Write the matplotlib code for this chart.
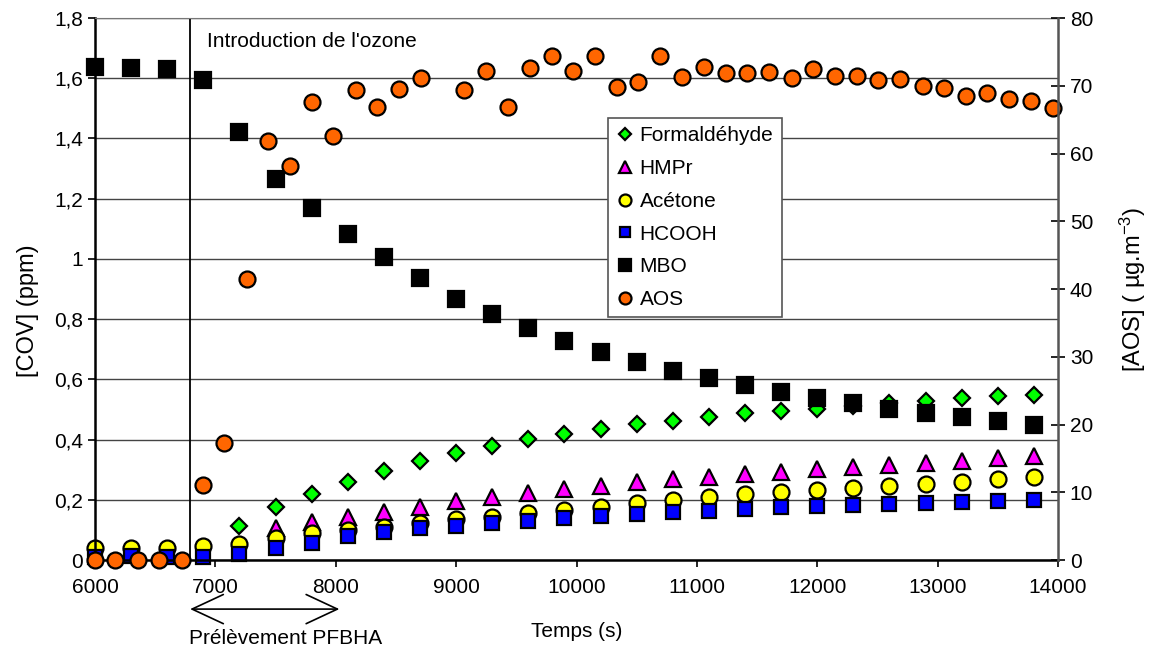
import matplotlib
matplotlib.use('Agg')
import matplotlib.pyplot as plt
from matplotlib.ticker import FuncFormatter, MultipleLocator

plt.rcParams['font.family'] = ['Liberation Sans', 'DejaVu Sans']
plt.rcParams['mathtext.default'] = 'regular'
plt.rcParams['font.size'] = 15

# temps des prélèvements COV (s)
t_cov = [6000, 6300, 6600, 6900, 7200, 7500, 7800, 8100, 8400, 8700, 9000, 9300, 9600, 9900,
         10200, 10500, 10800, 11100, 11400, 11700, 12000, 12300, 12600, 12900, 13200, 13500, 13800]
t_form = t_cov[4:]
t_hmpr = t_cov[5:]

formaldehyde = [0.113, 0.176, 0.219, 0.26, 0.296, 0.328, 0.356, 0.379, 0.401, 0.418, 0.435, 0.452,
                0.462, 0.475, 0.488, 0.495, 0.502, 0.51, 0.52, 0.528, 0.538, 0.545, 0.548]
hmpr = [0.107, 0.125, 0.143, 0.16, 0.177, 0.195, 0.208, 0.222, 0.235, 0.246, 0.26, 0.268, 0.277,
        0.285, 0.293, 0.301, 0.309, 0.316, 0.323, 0.33, 0.338, 0.345]
acetone = [0.04, 0.04, 0.04, 0.045, 0.053, 0.072, 0.089, 0.1, 0.11, 0.122, 0.135, 0.143, 0.155,
           0.167, 0.177, 0.19, 0.2, 0.21, 0.218, 0.226, 0.233, 0.24, 0.246, 0.253, 0.26, 0.268, 0.275]
hcooh = [0.01, 0.012, 0.01, 0.01, 0.02, 0.04, 0.055, 0.08, 0.093, 0.105, 0.113, 0.122, 0.13,
         0.139, 0.146, 0.153, 0.158, 0.163, 0.168, 0.175, 0.18, 0.183, 0.186, 0.19, 0.193, 0.196, 0.2]
mbo = [1.638, 1.635, 1.631, 1.595, 1.422, 1.266, 1.169, 1.083, 1.007, 0.935, 0.867, 0.817, 0.769,
       0.728, 0.691, 0.658, 0.628, 0.605, 0.581, 0.558, 0.538, 0.522, 0.502, 0.488, 0.475, 0.462, 0.449]

# AOS (axe de droite, µg/m3)
t_aos = [6000, 6170, 6360, 6530, 6720, 6900, 7070, 7260, 7440, 7620, 7800, 7980, 8165, 8345, 8525,
         8710, 9065, 9250, 9430, 9615, 9795, 9970, 10155, 10340, 10515, 10695, 10880, 11060, 11245,
         11420, 11600, 11790, 11965, 12150, 12330, 12505, 12690, 12875, 13050, 13235, 13410, 13595,
         13775, 13955]
aos = [0, 0, 0, 0, 0, 11.1, 17.3, 41.5, 61.8, 58.2, 67.6, 62.6, 69.4, 66.9, 69.5, 71.1, 69.4, 72.2,
       66.9, 72.6, 74.4, 72.2, 74.4, 69.8, 70.6, 74.4, 71.3, 72.8, 71.9, 71.9, 72.0, 71.1, 72.5, 71.4,
       71.4, 70.8, 71.0, 70.0, 69.7, 68.5, 68.9, 68.0, 67.7, 66.7]

t_ozone = 6790
prelevement = (6790, 8030)

fig = plt.figure(figsize=(11.53, 6.53), dpi=100)
ax1 = fig.add_axes([0.0824, 0.1424, 0.8352, 0.830])

kw = dict(linestyle='none', markeredgecolor='black', markeredgewidth=1.6, clip_on=False)
h1, = ax1.plot(t_form, formaldehyde, marker='D', ms=8.5, color='#00ff00', label='Formaldéhyde', **kw)
h2, = ax1.plot(t_hmpr, hmpr, marker='^', ms=11.5, color='#ff00ff', label='HMPr', **kw)
h3, = ax1.plot(t_cov, acetone, marker='o', ms=11.5, color='#ffff00', label='Acétone', **kw)
h4, = ax1.plot(t_cov, hcooh, marker='s', ms=10.5, color='#0000ff', label='HCOOH', **kw)
h5, = ax1.plot(t_cov, mbo, marker='s', ms=12, color='black', label='MBO', **kw)

ax1.set_xlim(6000, 14000)
ax1.set_ylim(0, 1.8)
ax1.xaxis.set_major_locator(MultipleLocator(1000))
ax1.yaxis.set_major_locator(MultipleLocator(0.2))
ax1.yaxis.set_major_formatter(FuncFormatter(lambda v, p: ('%g' % round(v, 1)).replace('.', ',')))
ax1.grid(axis='y', color='#444444', linewidth=1)
ax1.set_axisbelow(True)
ax1.set_xlabel('Temps (s)', labelpad=18)
ax1.set_ylabel('[COV] (ppm)', labelpad=8, fontsize=17)
ax1.yaxis.set_label_coords(-0.058, 0.46)
ax1.tick_params(axis='both', direction='out', length=5, width=1.2)
ax1.tick_params(axis='x', pad=8)
ax1.spines['left'].set_linewidth(1.8)
ax1.spines['bottom'].set_linewidth(1.8)
ax1.spines['top'].set_color('#777777')
ax1.spines['right'].set_visible(False)

ax1.axvline(t_ozone, color='black', linewidth=1.3, zorder=1)
ax1.text(6930, 1.722, "Introduction de l'ozone", ha='left', va='center')

ax1.annotate('', xy=(prelevement[0], -0.163), xytext=(prelevement[1], -0.163),
             xycoords='data', annotation_clip=False,
             arrowprops=dict(arrowstyle='<->,head_length=1.5,head_width=0.7', color='black',
                             linewidth=1.2, shrinkA=0, shrinkB=0))
ax1.text(7580, -0.262, 'Prélèvement PFBHA', ha='center', va='center', clip_on=False)

ax2 = ax1.twinx()
h6, = ax2.plot(t_aos, aos, marker='o', ms=11.5, color='#ff6600', label='AOS', **kw)
ax2.set_ylim(0, 80)
ax2.yaxis.set_major_locator(MultipleLocator(10))
ax2.set_ylabel('[AOS] ( µg.m$^{-3}$)', labelpad=18, fontsize=17)
ax2.tick_params(axis='y', direction='inout', length=10, width=1.2)
ax2.spines['right'].set_color('#555555')
ax2.spines['right'].set_linewidth(1.8)
for s in ['left', 'bottom', 'top']:
    ax2.spines[s].set_visible(False)

leg = ax2.legend([h1, h2, h3, h4, h5, h6],
                 ['Formaldéhyde', 'HMPr', 'Acétone', 'HCOOH', 'MBO', 'AOS'],
                 loc='upper left', bbox_to_anchor=(0.533, 0.8155), fancybox=False,
                 edgecolor='#555555', framealpha=1, markerscale=0.75, handlelength=0.8,
                 handletextpad=0.3, labelspacing=0.66, borderpad=0.4, borderaxespad=0)
leg.get_frame().set_linewidth(1.2)

fig.savefig('out.png', dpi=100)
